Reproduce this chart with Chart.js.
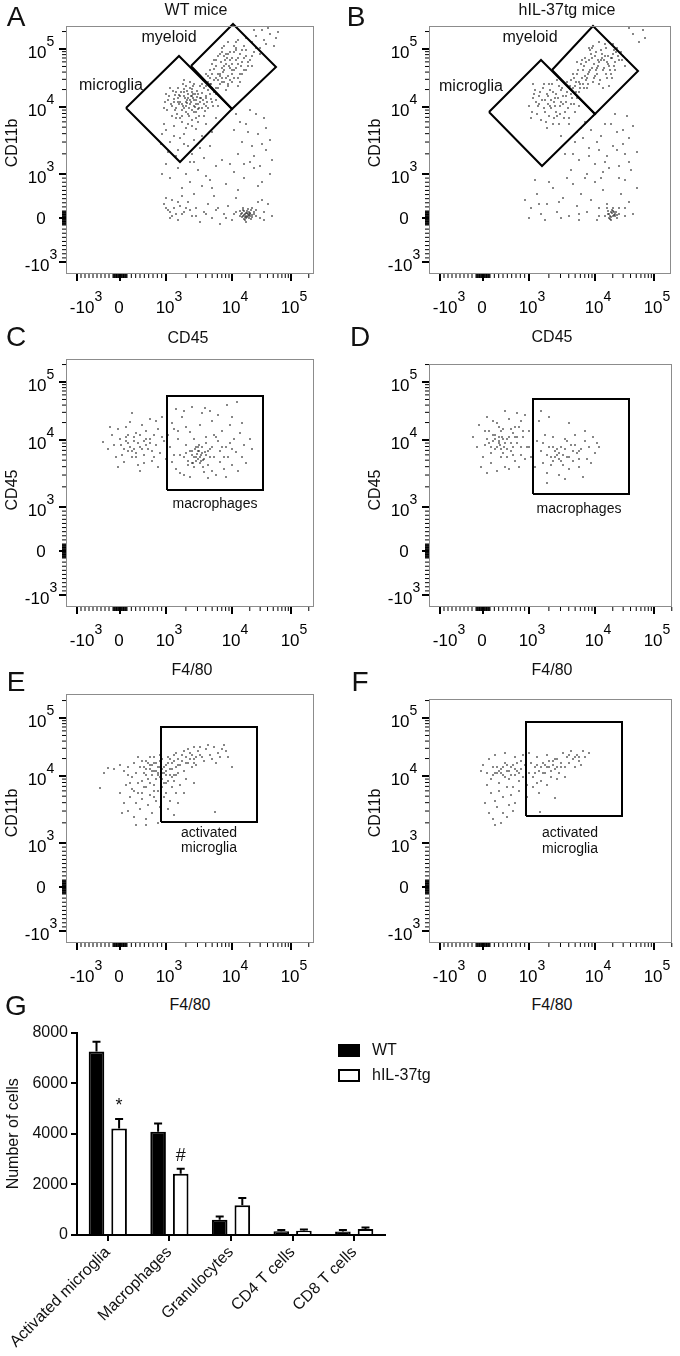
<!DOCTYPE html>
<html lang="en">
<head>
<meta charset="UTF-8">
<title>Flow cytometry of brain infiltrates, WT vs hIL-37tg</title>
<script src="https://cdn.jsdelivr.net/npm/chart.js"></script>
<style>
  body { margin: 0; background: #fff; font-family: "Liberation Sans", Arial, sans-serif; color: #111; }
  #fig { position: relative; width: 680px; height: 1356px; overflow: hidden; }
  canvas { position: absolute; }
  .t { position: absolute; transform: translate(-50%, -50%); line-height: 1; white-space: nowrap; }
  .letter { font-size: 28px; }
  .lbl { font-size: 16px; }
  .gate { font-size: 14px; }
  .rot { transform: translate(-50%, -50%) rotate(-90deg); }
  .leg { position: absolute; font-size: 16px; line-height: 1; transform: translateY(-50%); white-space: nowrap; }
  .sw { position: absolute; box-sizing: border-box; width: 22px; height: 13px; border: 2px solid #000; }
</style>
</head>
<body>
<div id="fig">
  <canvas id="cA" width="340" height="325" style="left:0;top:0"></canvas>
  <canvas id="cB" width="340" height="325" style="left:340px;top:0"></canvas>
  <canvas id="cC" width="340" height="325" style="left:0;top:330px"></canvas>
  <canvas id="cD" width="340" height="325" style="left:340px;top:330px"></canvas>
  <canvas id="cE" width="340" height="325" style="left:0;top:665px"></canvas>
  <canvas id="cF" width="340" height="325" style="left:340px;top:665px"></canvas>
  <canvas id="cG" width="680" height="336" style="left:0;top:1020px"></canvas>

  <div class="t letter" style="left:16px;top:17px">A</div>
  <div class="t letter" style="left:356px;top:17px">B</div>
  <div class="t letter" style="left:16px;top:337px">C</div>
  <div class="t letter" style="left:360px;top:337px">D</div>
  <div class="t letter" style="left:16px;top:682px">E</div>
  <div class="t letter" style="left:360px;top:682px">F</div>
  <div class="t letter" style="left:16px;top:1006px">G</div>

  <div class="t lbl" style="left:196px;top:10px">WT mice</div>
  <div class="t lbl" style="left:567px;top:10px">hIL-37tg mice</div>

  <div class="t lbl" style="left:169px;top:37px">myeloid</div>
  <div class="t lbl" style="left:111px;top:85px">microglia</div>
  <div class="t lbl" style="left:530px;top:37px">myeloid</div>
  <div class="t lbl" style="left:471px;top:86px">microglia</div>

  <div class="t lbl" style="left:188px;top:338px">CD45</div>
  <div class="t lbl" style="left:552px;top:337px">CD45</div>
  <div class="t lbl" style="left:192px;top:670px">F4/80</div>
  <div class="t lbl" style="left:552px;top:670px">F4/80</div>
  <div class="t lbl" style="left:190px;top:1005px">F4/80</div>
  <div class="t lbl" style="left:552px;top:1005px">F4/80</div>

  <div class="t lbl rot" style="left:12px;top:143px">CD11b</div>
  <div class="t lbl rot" style="left:375px;top:143px">CD11b</div>
  <div class="t lbl rot" style="left:12px;top:490px">CD45</div>
  <div class="t lbl rot" style="left:375px;top:490px">CD45</div>
  <div class="t lbl rot" style="left:12px;top:813px">CD11b</div>
  <div class="t lbl rot" style="left:375px;top:813px">CD11b</div>

  <div class="t gate" style="left:215px;top:503px">macrophages</div>
  <div class="t gate" style="left:579px;top:508px">macrophages</div>
  <div class="t gate" style="left:209px;top:832px">activated</div>
  <div class="t gate" style="left:209px;top:847px">microglia</div>
  <div class="t gate" style="left:570px;top:832px">activated</div>
  <div class="t gate" style="left:570px;top:848px">microglia</div>

  <div id="legend"></div>
</div>

<script>
// ---- axis ticks (logicle display channels, same on every dot plot) ----
const tickChannelsX = [11, 54, 100, 166, 225];
const tickChannelsY = [12, 56, 100, 167, 225];
const tickBase = ['-10', '0', '10', '10', '10'];
const tickExp = ['3', '', '3', '4', '5'];
const minorValues = [-900, -800, -700, -600, -500, -400, -300, -200, -100,
  -90, -80, -70, -60, -50, -40, -30, -20, -10, 10, 20, 30, 40, 50, 60, 70, 80, 90,
  100, 200, 300, 400, 500, 600, 700, 800, 900,
  2000, 3000, 4000, 5000, 6000, 7000, 8000, 9000,
  20000, 30000, 40000, 50000, 60000, 70000, 80000, 90000, 200000];

// ---- dot plots: events in display channels [x, y] ----
const dotsWtCd45Cd11b = [
  [124,174],[118,178],[130,170],[112,172],[127,180],[135,176],[120,168],[115,182],[108,175],[132,165],
  [140,178],[126,185],[122,160],[110,166],[138,170],[128,162],[117,190],[105,170],[142,184],[134,188],
  [125,172],[119,176],[131,177],[113,179],[129,167],[136,181],[121,183],[116,164],[103,178],[145,175],
  [111,160],[139,163],[124,192],[107,183],[147,168],[99,172],[133,158],[126,154],[114,156],[144,190],
  [150,180],[101,164],[137,194],[121,171],[127,176],[118,185],[131,183],[109,179],[123,166],[141,172],
  [120,172],[126,178],[116,170],[130,174],[122,180],[128,168],[134,172],[112,176],[118,166],[124,186],
  [136,166],[110,182],[140,176],[106,168],[132,180],[126,164],[114,172],[120,188],[138,186],[102,174],
  [144,180],[128,190],[116,158],[122,176],[130,162],[108,172],[142,166],[124,170],[118,182],[134,176],
  [100,180],[146,172],[112,186],[128,174],[136,190],[120,162],[132,170],[114,178],[126,182],[140,168],
  [104,186],[150,174],[118,194],[130,156],[110,156],[146,186],[122,150],[138,158],[98,166],[152,168],
  [125,178],[121,174],[129,180],[117,168],[133,166],[113,170],[127,188],[137,174],[109,164],[123,158],
  [157,202],[150,196],[163,208],[145,190],[170,214],[155,212],[160,196],[148,205],[166,200],[175,208],
  [152,186],[158,218],[168,222],[142,198],[172,196],[162,190],[178,216],[154,200],[146,210],[164,214],
  [180,204],[156,226],[170,206],[150,214],[160,184],[174,220],[166,192],[140,188],[182,212],[158,208],
  [152,194],[168,228],[176,200],[144,204],[162,220],[186,218],[148,182],[172,188],[156,192],[164,206],
  [180,224],[138,194],[154,220],[170,232],[159,214],
  [158,204],[152,200],[166,210],[148,194],[172,216],[156,206],[162,198],[150,208],[168,204],[176,212],
  [154,190],[160,220],[170,224],[144,196],[174,200],[164,194],[180,218],[156,196],[148,214],[166,216],
  [182,208],[158,228],[172,210],[152,218],[162,188],[176,224],[168,196],[142,192],[184,214],[160,210],
  [154,198],[170,226],[178,204],[146,200],[164,222],[188,222],[150,186],[174,192],[158,192],[166,204],
  [178,228],[140,200],[156,222],[172,234],[161,216],[186,208],[190,226],[194,220],[180,236],[162,232],
  [98,150],[108,148],[118,140],[104,132],[122,128],[130,145],[112,124],[96,140],[126,120],[136,138],
  [116,152],[102,122],[140,150],[110,118],[128,134],[120,146],[134,126],[106,158],[146,142],[95,130],
  [150,156],[124,112],[114,136],[132,152],[144,128],[100,144],[118,130],[138,116],[108,138],[126,148],
  [190,238],[196,244],[204,240],[200,230],[186,232],[210,236],[194,226],[202,246],[188,244],[208,228],
  [198,234],[212,242],
  [170,160],[180,150],[192,140],[200,124],[176,132],[188,118],[198,156],[172,120],[184,164],[204,134],
  [168,144],[194,108],[178,110],[200,146],[186,128],[174,152],[190,160],[206,114],[182,142],[196,130],
  [96,100],[104,96],[112,106],[124,92],[132,104],[140,98],[150,108],[160,90],[168,102],[178,96],
  [188,106],[196,92],[204,100],[116,86],[146,86],[172,84],[192,88],[128,112],[156,114],[136,88],
  [184,112],[100,110],[164,110],[144,94],[120,100],
  [98,70],[102,64],[106,74],[110,60],[114,68],[104,56],[118,62],[122,72],[100,76],[112,54],
  [126,58],[130,66],[134,52],[138,62],[142,70],[146,56],[150,64],[154,50],[158,60],[162,68],
  [166,54],[170,62],[174,58],[177,64],[179,60],[181,57],[183,62],[185,55],[180,52],[186,66],
  [178,55],[182,60],[188,60],[176,61],[184,58],[190,64],[194,56],[198,62],[202,70],[196,74],
  [170,76],[148,78],[128,80],[116,78],[206,58],[180,61],[182,58],[179,57],[184,61],[181,63],
  [178,59],[183,56],[186,59],[177,58],[180,56],
  [175,60],[178,63],[180,58],[182,65],[184,60],[186,57],[188,62],[176,57],[179,54],[183,59],
  [181,61],[185,64],[177,66],[190,58],[174,63],[108,66],[112,72],[104,62],[116,60],[120,66],
  [100,66],[106,58],[124,64],[140,60],[152,66],[160,56],[168,60],[192,72],[198,54],[130,58]
];
const dotsTgCd45Cd11b = [
  [126,176],[118,180],[132,172],[110,170],[138,182],[122,166],[114,186],[130,188],[104,176],[142,170],
  [120,158],[136,162],[108,160],[128,194],[116,174],[144,186],[100,168],[134,178],[124,182],[112,154],
  [140,156],[106,184],[148,176],[120,190],[130,150],[118,146],[102,156],[146,162],[126,168],[138,192],
  [110,178],[134,170],[122,174],[116,162],[142,180],[128,158],[104,190],[150,168],[132,184],[124,150],
  [125,172],[119,178],[131,168],[113,174],[137,178],[121,184],[127,162],[115,166],[133,186],[107,172],
  [143,176],[117,152],[139,166],[123,190],[111,182],[129,176],[103,162],[145,170],[121,168],[135,156],
  [109,168],[127,180],[141,188],[115,190],[131,160],[119,170],[105,180],[147,182],[125,156],[137,172],
  [163,206],[156,198],[170,212],[150,192],[176,218],[160,214],[168,200],[146,188],[180,208],[154,204],
  [172,224],[164,192],[184,220],[158,186],[178,196],[148,200],[186,212],[166,218],[152,210],[174,204],
  [188,226],[160,226],[142,194],[182,200],[170,190],[156,216],[190,214],[164,228],[176,230],[150,182],
  [168,206],[180,188],[194,218],[158,196],[172,214],[144,200],[186,204],[162,220],[178,212],[154,190],
  [196,208],[166,198],[184,230],[148,212],[174,186],[192,222],[160,202],[182,216],[170,232],[198,214],
  [161,204],[157,194],[169,214],[153,196],[175,214],[163,216],[167,204],[151,190],[179,210],[155,208],
  [173,220],[165,196],[183,216],[159,190],[177,200],[149,204],[185,208],[167,222],[153,214],[175,206],
  [187,222],[161,224],[145,196],[181,204],[171,194],[157,212],[189,218],[163,226],[177,226],[151,186],
  [169,208],[183,196],[193,214],[159,200],[173,216],[147,192],[185,224],[165,210],[179,218],[155,186],
  [140,150],[152,146],[164,158],[176,150],[188,142],[200,136],[146,132],[160,126],[172,138],[184,128],
  [196,120],[204,148],[136,120],[150,114],[166,110],[178,118],[190,108],[202,104],[142,104],[158,100],
  [170,124],[186,160],[198,158],[154,136],[180,106],[194,130],[132,138],[208,122],[162,144],[174,102],
  [144,120],[156,152],[168,132],[182,150],[194,144],[148,142],[160,118],[176,112],[188,124],[200,112],
  [204,240],[210,232],[214,244],[200,246],[216,236],
  [96,74],[102,66],[108,80],[112,60],[118,70],[124,86],[128,62],[134,76],[140,58],[144,90],
  [148,68],[152,80],[158,62],[162,74],[166,92],[170,66],[174,84],[178,70],[182,62],[184,58],
  [180,56],[186,60],[183,64],[188,56],[179,60],[185,62],[181,58],[190,66],[192,80],[196,94],
  [200,72],[204,60],[208,86],[106,94],[120,92],[138,96],[156,96],[172,96],[190,96],[100,56],
  [116,54],[132,56],[150,54],[168,54],[196,58],
  [180,60],[182,57],[184,63],[186,58],[181,55],[183,61],[185,59],[179,63],[187,62],[182,54],
  [176,58],[188,59],[178,66],[190,60],[184,66],[110,70],[130,72],[150,60],[170,58],[196,66]
];
const dotsWtF480Cd45 = [
  [37,165],[42,158],[46,172],[50,150],[52,178],[55,162],[58,145],[60,170],[62,156],[64,185],
  [66,150],[68,166],[70,174],[72,142],[74,160],[76,182],[78,152],[80,168],[82,158],[84,188],
  [86,146],[88,172],[90,162],[92,178],[94,154],[96,190],[98,166],[100,148],[56,152],[62,164],
  [70,154],[80,176],[88,150],[96,170],[48,162],[66,194],[52,140],[74,136],[92,140],[60,180],
  [84,164],[78,144],[44,180],[68,158],[90,186],
  [64,160],[68,170],[72,164],[76,158],[70,150],[60,166],[80,162],[74,172],[66,156],[84,168],
  [58,158],[78,166],[62,172],[86,156],[54,168],
  [104,160],[106,145],[108,178],[110,138],[112,168],[114,152],[116,190],[118,132],[120,162],[122,146],
  [124,175],[126,156],[128,140],[130,150],[131,153],[132,148],[133,156],[134,144],[135,152],[136,160],
  [137,147],[138,135],[139,155],[140,170],[142,142],[144,158],[146,186],[148,150],[150,132],[152,166],
  [154,145],[156,176],[158,138],[160,160],[162,150],[164,182],[166,142],[168,168],[170,155],[172,136],
  [174,174],[176,150],[178,162],[180,144],[184,168],[186,158],[110,198],[118,196],[126,200],[136,194],
  [144,196],[152,192],[161,202],[171,205],[139,199],[124,130],[142,129],[160,130],[114,134],[102,172],
  [128,168],[120,180],[134,182],[148,172],[156,160],[166,190],[176,184],[106,184],[140,164],[130,160],
  [126,144],[118,150],[146,136],[154,156],[164,164],
  [128,150],[132,156],[134,150],[130,146],[136,154],[126,152],[138,148],[132,160],[140,152],[124,156],
  [129,158],[135,146],[142,156],[127,144],[133,162],[120,154],[144,150],[137,140],[122,142],[146,160],
  [112,176],[150,170],[158,150],[166,158],[108,152]
];
const dotsTgF480Cd45 = [
  [44,170],[48,160],[50,182],[54,150],[56,176],[58,190],[60,164],[62,144],[64,172],[66,158],
  [68,184],[70,166],[71,162],[72,150],[73,170],[74,178],[75,160],[76,140],[78,168],[80,188],
  [82,156],[84,174],[86,146],[88,164],[90,180],[92,152],[94,170],[96,192],[98,160],[52,140],
  [58,134],[68,136],[80,138],[90,140],[62,154],[66,168],[74,154],[84,160],[92,186],[56,162],
  [70,180],[78,150],[86,170],[96,148],[64,186],[82,178],[100,176],[88,194],[76,196],
  [70,164],[72,158],[74,168],[68,160],[76,164],[66,172],[78,158],[64,166],[80,170],[72,176],
  [62,160],[82,164],[70,170],[60,176],[84,152],[88,170],[92,160],[94,176],[58,168],[86,180],
  [100,160],[102,150],[104,178],[106,140],[108,166],[110,186],[112,156],[114,144],[116,172],[118,134],
  [120,160],[122,150],[124,146],[126,156],[128,152],[130,148],[132,160],[134,142],[136,168],[138,150],
  [140,138],[142,162],[144,146],[146,172],[148,154],[150,140],[152,158],[154,130],[156,166],[158,148],
  [160,160],[162,144],[164,170],[166,154],[168,164],[170,160],[112,196],[120,190],[104,198],[140,184],
  [156,176],[130,132],[118,124],[150,148],[124,170],[136,128],
  [126,150],[130,154],[132,146],[124,160],[128,158],[134,152],[136,158],[140,150],[144,156],[118,152],
  [114,164],[146,162],[150,156],[122,142],[138,166]
];
const dotsWtF480Cd11b = [
  [74,176],[78,170],[80,182],[82,164],[84,174],[86,168],[88,180],[90,172],[92,176],[94,166],
  [96,184],[98,170],[100,178],[102,162],[104,174],[106,180],[108,168],[110,176],[76,162],[84,186],
  [90,164],[96,174],[102,186],[106,166],[112,170],[80,174],[88,158],[94,182],[100,168],[86,178],
  [92,170],[98,160],[104,184],[70,170],[68,180],[72,186],[66,166],[62,176],[58,172],[54,178],
  [48,174],[42,175],[38,170],
  [84,178],[88,172],[90,180],[92,168],[94,176],[96,170],[86,172],[82,180],[98,176],[100,172],
  [102,180],[104,168],[106,174],[108,182],[110,168],[78,176],[80,168],[76,182],[94,188],[88,186],
  [112,184],[116,188],[120,180],[124,190],[128,184],[132,192],[136,186],[140,194],[144,188],[148,196],
  [152,190],[156,194],[160,192],[114,178],[122,194],[130,178],[138,182],[146,184],[154,186],[118,172],
  [126,176],[134,196],[142,198],[158,198],[110,190],[150,180],[162,186],[166,176],[108,188],[128,196],
  [112,178],[116,182],[120,186],[124,184],[118,192],[126,188],[130,186],[134,188],[122,180],[128,180],
  [54,150],[58,140],[60,158],[62,132],[64,146],[66,154],[68,126],[70,140],[72,150],[74,134],
  [76,144],[78,156],[80,124],[82,138],[84,148],[86,130],[88,152],[90,142],[92,120],[94,136],
  [96,156],[98,146],[100,150],[102,134],[104,142],[106,156],[108,128],[110,150],[112,140],[70,118],
  [80,118],[56,130],[100,160],[108,162],[114,158],[118,150],[34,155],[149,131],[128,160],[120,164],
  [64,160],[68,152],[72,160],[76,150],[80,156],[84,160],[88,146],[92,152],[96,164],[62,168]
];
const dotsTgF480Cd11b = [
  [54,178],[58,170],[60,184],[62,164],[64,176],[66,188],[68,170],[70,160],[72,174],[74,168],
  [76,180],[78,172],[80,164],[82,176],[84,156],[86,168],[88,180],[90,162],[92,174],[94,166],
  [96,178],[98,158],[62,150],[66,142],[70,152],[74,146],[78,156],[82,148],[86,140],[90,152],
  [58,158],[76,190],[86,186],[94,188],[52,172],
  [72,170],[74,176],[76,166],[78,178],[70,172],[80,172],[82,168],[68,176],[84,178],[86,174],
  [88,172],[90,170],[66,170],[92,182],[64,168],
  [60,130],[64,124],[68,136],[72,120],[74,130],[78,126],[80,138],[66,118],[84,132],[56,140],
  [100,170],[102,180],[104,166],[106,176],[108,186],[110,172],[112,162],[114,180],[116,170],[118,188],
  [120,176],[122,166],[124,182],[126,174],[128,184],[130,170],[132,180],[134,190],[136,176],[138,186],
  [140,180],[144,184],[148,188],[150,182],[152,178],[156,186],[160,190],[154,192],[146,176],[142,192],
  [104,156],[110,150],[118,158],[100,190],[108,160],[128,164],[136,166],[126,145],[111,131],[98,146],
  [112,176],[116,178],[120,182],[124,178],[128,176],[132,176],[126,184],[122,172],[118,176],[114,170],
  [140,188],[146,186],[150,186],[106,170],[108,178]
];

// ---- gates (polygon vertices in display channels) ----
const gateWtMicroglia = [[60,166],[113,218],[166,165],[114,112],[60,166]];
const gateWtMyeloid = [[125,208],[167,250],[210,207],[166,165],[125,208]];
const gateTgMicroglia = [[60,162],[112,214],[166,160],[113,108],[60,162]];
const gateTgMyeloid = [[123,204],[164,248],[209,203],[166,160],[123,204]];
const gateWtMacrophages = [[101,117],[101,211],[197,211],[197,117],[101,117]];
const gateTgMacrophages = [[104,113],[104,208],[200,208],[200,113],[104,113]];
const gateWtActivated = [[95,121],[95,216],[191,216],[191,121],[95,121]];
const gateTgActivated = [[97,127],[97,221],[193,221],[193,127],[97,127]];

// ---- panel G: numbers of cells ----
const categories = ['Activated microglia', 'Macrophages', 'Granulocytes', 'CD4 T cells', 'CD8 T cells'];
const seriesNames = ['WT', 'hIL-37tg'];
const wtMean = [7250, 4080, 600, 150, 140];
const wtSem = [390, 330, 130, 45, 60];
const tgMean = [4210, 2420, 1180, 170, 240];
const tgSem = [375, 195, 285, 45, 60];
const tgMarks = ['*', '#', '', '', ''];

const FONT = '"Liberation Sans", Arial, sans-serif';

// canvas origin and plot box (page pixels) for each dot plot
const panels = [
  { id: 'cA', left: 0,   top: 0,   box: [66, 26, 314, 274],  dots: dotsWtCd45Cd11b, gates: [gateWtMicroglia, gateWtMyeloid] },
  { id: 'cB', left: 340, top: 0,   box: [429, 26, 671, 274], dots: dotsTgCd45Cd11b, gates: [gateTgMicroglia, gateTgMyeloid] },
  { id: 'cC', left: 0,   top: 330, box: [66, 359, 314, 607], dots: dotsWtF480Cd45, gates: [gateWtMacrophages] },
  { id: 'cD', left: 340, top: 330, box: [429, 364, 672, 607], dots: dotsTgF480Cd45, gates: [gateTgMacrophages] },
  { id: 'cE', left: 0,   top: 665, box: [66, 694, 314, 943], dots: dotsWtF480Cd11b, gates: [gateWtActivated] },
  { id: 'cF', left: 340, top: 665, box: [429, 699, 672, 943], dots: dotsTgF480Cd11b, gates: [gateTgActivated] }
];
const xLabelShift = [9, -1, 3, 3, 3];

// value -> display channel, piecewise through the major tick channels
function channelOf(v, t) {
  const p100 = t[1] + 7, n100 = t[1] - 7;
  if (v >= 10000) return t[3] + (t[4] - t[3]) * (Math.log10(v) - 4);
  if (v >= 1000) return t[2] + (t[3] - t[2]) * (Math.log10(v) - 3);
  if (v >= 100) return p100 + (t[2] - p100) * (v - 100) / 900;
  if (v >= 0) return t[1] + (p100 - t[1]) * v / 100;
  if (v > -100) return t[1] + (t[1] - n100) * v / 100;
  return n100 - (n100 - t[0]) * (-v - 100) / 900;
}

function drawPow(ctx, base, exp, cx, cy) {
  const baseFont = '17px ' + FONT, supFont = '14px ' + FONT;
  ctx.font = baseFont;
  const wb = ctx.measureText(base).width;
  ctx.font = supFont;
  const we = exp ? ctx.measureText(exp).width : 0;
  const x0 = cx - (wb + we) / 2;
  ctx.textAlign = 'left';
  ctx.textBaseline = 'middle';
  ctx.font = baseFont;
  ctx.fillText(base, x0, cy);
  if (exp) {
    ctx.font = supFont;
    ctx.fillText(exp, x0 + wb, cy - 11);
  }
}

const flowAxes = {
  id: 'flowAxes',
  afterDraw(chart) {
    const { ctx, chartArea: a, scales: { x, y } } = chart;
    ctx.save();
    ctx.strokeStyle = '#8c8c8c';
    ctx.lineWidth = 1;
    ctx.strokeRect(a.left + 0.5, a.top + 0.5, a.right - a.left - 1, a.bottom - a.top - 1);
    ctx.fillStyle = '#000';
    minorValues.forEach(v => {
      const cx = channelOf(v, tickChannelsX), cy = channelOf(v, tickChannelsY);
      if (cx <= x.max) ctx.fillRect(x.getPixelForValue(cx) - 0.5, a.bottom, 1, 4);
      if (cy <= y.max) ctx.fillRect(a.left - 4, y.getPixelForValue(cy) - 0.5, 4, 1);
    });
    tickChannelsX.forEach((c, i) => {
      const px = x.getPixelForValue(c);
      ctx.fillRect(px - 1, a.bottom, 2, 7);
      drawPow(ctx, tickBase[i], tickExp[i], px + xLabelShift[i], a.bottom + 34);
    });
    tickChannelsY.forEach((c, i) => {
      const py = y.getPixelForValue(c);
      ctx.fillRect(a.left - 7, py - 1, 7, 2);
      drawPow(ctx, tickBase[i], tickExp[i], a.left - 25, py + (tickExp[i] ? 4 : 1));
    });
    ctx.restore();
  }
};

panels.forEach(p => {
  const cv = document.getElementById(p.id);
  const [l, t, r, b] = p.box;
  const gateSets = p.gates.map(g => ({
    data: g.map(([gx, gy]) => ({ x: gx, y: gy })),
    showLine: true, pointRadius: 0, borderColor: '#000', borderWidth: 2, clip: false, order: 0
  }));
  new Chart(cv, {
    type: 'scatter',
    data: {
      datasets: gateSets.concat([{
        data: p.dots.map(([dx, dy]) => ({ x: dx, y: dy })),
        pointStyle: 'rect', pointRadius: 1, pointHoverRadius: 0,
        backgroundColor: '#1e1e1e', borderWidth: 0, order: 1
      }])
    },
    options: {
      responsive: false, animation: false, events: [],
      layout: { padding: { left: l - p.left, top: t - p.top, right: p.left + cv.width - r, bottom: p.top + cv.height - b } },
      plugins: { legend: { display: false }, tooltip: { enabled: false } },
      scales: {
        x: { type: 'linear', display: false, min: 0, max: r - l },
        y: { type: 'linear', display: false, min: 0, max: b - t }
      }
    },
    plugins: [flowAxes]
  });
});

const errorBars = {
  id: 'errorBars',
  afterDatasetsDraw(chart) {
    const { ctx, scales: { y } } = chart;
    ctx.save();
    ctx.strokeStyle = '#000';
    ctx.fillStyle = '#111';
    ctx.lineWidth = 2;
    chart.data.datasets.forEach((ds, i) => {
      chart.getDatasetMeta(i).data.forEach((bar, j) => {
        const top = y.getPixelForValue(ds.data[j] + ds.errors[j]);
        ctx.beginPath();
        ctx.moveTo(bar.x, bar.y);
        ctx.lineTo(bar.x, top);
        ctx.moveTo(bar.x - 4, top);
        ctx.lineTo(bar.x + 4, top);
        ctx.stroke();
        if (ds.marks && ds.marks[j]) {
          ctx.font = '18px ' + FONT;
          ctx.textAlign = 'center';
          ctx.textBaseline = 'alphabetic';
          ctx.fillText(ds.marks[j], bar.x, top - 8);
        }
      });
    });
    ctx.restore();
  }
};

new Chart(document.getElementById('cG'), {
  type: 'bar',
  data: {
    labels: categories,
    datasets: [
      { label: seriesNames[0], data: wtMean, errors: wtSem, backgroundColor: '#000', borderColor: '#000', borderWidth: 2 },
      { label: seriesNames[1], data: tgMean, errors: tgSem, marks: tgMarks, backgroundColor: '#fff', borderColor: '#000', borderWidth: 2 }
    ]
  },
  options: {
    responsive: false, animation: false, events: [],
    layout: { padding: { top: 10, right: 295, left: 0, bottom: 0 } },
    datasets: { bar: { categoryPercentage: 0.734, barPercentage: 0.69 } },
    plugins: { legend: { display: false }, tooltip: { enabled: false } },
    scales: {
      x: {
        grid: { drawOnChartArea: false, offset: false, color: '#000', lineWidth: 2, tickLength: 6 },
        border: { color: '#000', width: 2 },
        ticks: { color: '#111', font: { family: FONT, size: 16 }, minRotation: 45, maxRotation: 45, autoSkip: false, padding: 2 },
        afterFit(s) { s.height = 121; }
      },
      y: {
        min: 0, max: 8000,
        grid: { drawOnChartArea: false, color: '#000', lineWidth: 2, tickLength: 6 },
        border: { color: '#000', width: 2 },
        ticks: { stepSize: 2000, color: '#111', font: { family: FONT, size: 16 }, padding: 3, callback: v => String(v) },
        title: { display: true, text: 'Number of cells', color: '#111', font: { family: FONT, size: 16 }, padding: { top: 4, bottom: 0 } },
        afterFit(s) { s.width = 77; }
      }
    }
  },
  plugins: [errorBars]
});

// legend for panel G
const legend = document.getElementById('legend');
seriesNames.forEach((name, i) => {
  const yc = 1050 + i * 25;
  const sw = document.createElement('div');
  sw.className = 'sw';
  sw.style.left = '338px';
  sw.style.top = (yc - 6) + 'px';
  sw.style.background = i === 0 ? '#000' : '#fff';
  legend.appendChild(sw);
  const tx = document.createElement('div');
  tx.className = 'leg';
  tx.style.left = '372px';
  tx.style.top = yc + 'px';
  tx.textContent = name;
  legend.appendChild(tx);
});
</script>
</body>
</html>
